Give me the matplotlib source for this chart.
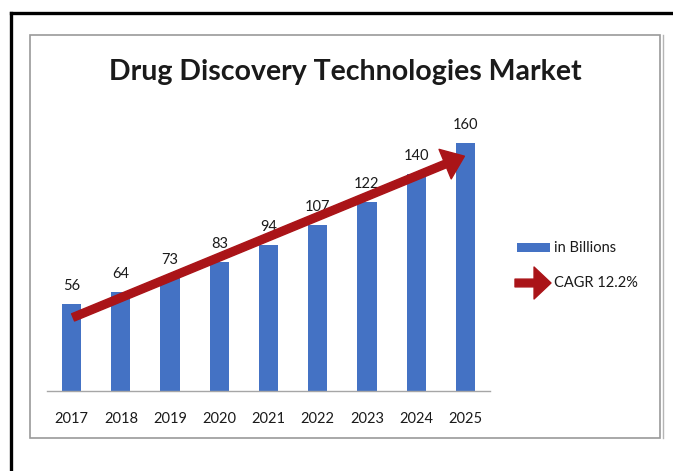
import matplotlib
matplotlib.use("Agg")
import matplotlib.pyplot as plt
from matplotlib.patches import Rectangle, FancyArrowPatch
from matplotlib.lines import Line2D

# ---- data ----
years = ["2017", "2018", "2019", "2020", "2021", "2022", "2023", "2024", "2025"]
values = [56, 64, 73, 83, 94, 107, 122, 140, 160]
title = "Drug Discovery Technologies Market"
series_label = "in Billions"
cagr_label = "CAGR 12.2%"

W, H = 673, 471
plt.rcParams['font.family'] = ['Lato', 'DejaVu Sans']
fig = plt.figure(figsize=(W / 100, H / 100), dpi=100)
fig.patch.set_facecolor('white')

def fx(px):
    return px / W

def fy(py):
    return 1 - py / H

bar_color = '#4472C4'
arrow_color = '#aa1418'
text_color = '#1a1a1a'

# axes placement (pixels)
ax_l, ax_r, ax_b, ax_t = 47, 490, 391, 120
ax = fig.add_axes([fx(ax_l), fy(ax_b), fx(ax_r) - fx(ax_l), fy(ax_t) - fy(ax_b)])
ax.set_facecolor('none')
x = list(range(len(years)))
ax.bar(x, values, width=0.39, color=bar_color, zorder=2)
ax.set_xlim(-0.5, len(years) - 0.5)
ax.set_ylim(0, (ax_b - ax_t) / 1.55)

for s in ['top', 'right', 'left']:
    ax.spines[s].set_visible(False)
ax.spines['bottom'].set_color('#a6a6a6')
ax.spines['bottom'].set_linewidth(1.0)
ax.set_yticks([])
ax.set_xticks(x)
ax.set_xticklabels(years, fontsize=10.5, color=text_color)
ax.tick_params(axis='x', length=0, pad=15)

for xi, v in zip(x, values):
    ax.annotate(str(v), xy=(xi, v), xytext=(0, 13), textcoords='offset points',
                ha='center', va='center', fontsize=10.5, color=text_color)

# CAGR trend arrow
arrow_drop = 8.5
ax.annotate('', xy=(x[-1] - 0.02, values[-1] - arrow_drop), xytext=(x[0] + 0.03, values[0] - arrow_drop),
            arrowprops=dict(arrowstyle='simple,head_length=0.75,head_width=1.15,tail_width=0.28',
                            mutation_scale=20, color=arrow_color, shrinkA=0, shrinkB=0),
            zorder=3)

# title
fig.text(fx(345), fy(72), title, ha='center', va='center', fontsize=20.5,
         fontweight='bold', color=text_color)

# legend (manual)
fig.add_artist(Rectangle((fx(517), fy(252)), fx(550) - fx(517), fy(243) - fy(252),
                         transform=fig.transFigure, facecolor=bar_color, edgecolor='none'))
fig.text(fx(554), fy(248), series_label, ha='left', va='center', fontsize=10.5, color=text_color)
fig.add_artist(FancyArrowPatch((fx(515), fy(283)), (fx(551), fy(283)), transform=fig.transFigure,
                               arrowstyle='simple,head_length=0.61,head_width=1.15,tail_width=0.28',
                               mutation_scale=20, color=arrow_color, shrinkA=0, shrinkB=0))
fig.text(fx(554), fy(283), cagr_label, ha='left', va='center', fontsize=10.5, color=text_color)

# inner frame
fig.add_artist(Rectangle((fx(30), fy(438)), fx(660) - fx(30), fy(35) - fy(438),
                         transform=fig.transFigure, facecolor='none', edgecolor='#9a9a9a', linewidth=1.2))
fig.add_artist(Line2D([fx(663), fx(663)], [fy(35), fy(438)], transform=fig.transFigure,
                      color='#b5b5b5', linewidth=1.0))

# outer black frame (left and top visible)
fig.add_artist(Line2D([fx(11.5), fx(11.5)], [fy(12.5), 0], transform=fig.transFigure,
                      color='black', linewidth=2.4, solid_capstyle='projecting'))
fig.add_artist(Line2D([fx(11.5), 1], [fy(12.5), fy(12.5)], transform=fig.transFigure,
                      color='black', linewidth=2.4, solid_capstyle='projecting'))

fig.savefig('out.png', dpi=100, facecolor='white')
